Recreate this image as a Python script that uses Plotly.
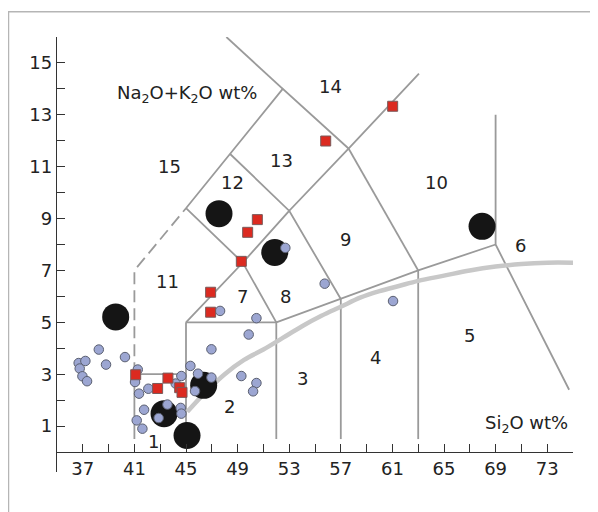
import plotly.graph_objects as go

# ---------------- data ----------------
blue_x = [36.68, 37.2, 36.76, 36.97, 37.33, 38.24, 38.8, 40.27, 41.26, 41.05, 41.36, 42.08,
          41.75, 41.18, 41.62, 43.56, 42.88, 44.59, 44.64, 44.64, 44.2, 45.34, 45.93, 46.97,
          45.7, 46.97, 49.29, 50.46, 50.2, 47.64, 50.46, 49.86, 52.7, 55.75, 61.05]
blue_y = [3.43, 3.51, 3.22, 2.92, 2.73, 3.95, 3.37, 3.66, 3.18, 2.70, 2.25, 2.44,
          1.63, 1.22, 0.90, 1.83, 1.31, 1.70, 1.48, 2.93, 2.64, 3.32, 3.02, 2.87,
          2.35, 3.96, 2.93, 2.66, 2.34, 5.44, 5.16, 4.53, 7.87, 6.49, 5.82]

red_x = [41.1, 42.8, 43.6, 44.51, 44.69, 46.91, 46.91, 49.29, 49.78, 50.53, 55.83, 61.02]
red_y = [2.98, 2.45, 2.85, 2.48, 2.30, 6.16, 5.39, 7.35, 8.47, 8.96, 11.99, 13.33]

black_x = [39.55, 43.3, 46.37, 45.08, 47.56, 51.88, 67.95]
black_y = [5.21, 1.48, 2.57, 0.64, 9.19, 7.69, 8.70]

# alkaline / subalkaline divide (thick grey curve)
curve_x = [45.1, 46.5, 48.0, 49.5, 51.0, 52.5, 54.0, 55.5, 57.0, 58.5, 60.0, 61.5, 63.0,
           65.0, 67.0, 69.0, 71.0, 73.0, 75.0]
curve_y = [1.55, 2.3, 3.0, 3.55, 3.95, 4.4, 4.85, 5.25, 5.6, 5.95, 6.2, 6.4, 6.6,
           6.8, 7.0, 7.15, 7.25, 7.3, 7.3]

# TAS field boundaries (polylines)
boundaries = [
    ([41, 41, 45], [0.5, 3, 3]),
    ([45, 45], [0.5, 5]),
    ([45, 52, 52], [5, 5, 0.5]),
    ([52, 57, 63, 69], [5, 5.9, 7, 8]),
    ([57, 57], [5.9, 0.5]),
    ([63, 63], [7, 0.5]),
    ([69, 69, 74.7], [13, 8, 2.4]),
    ([45, 49.4, 52], [5, 7.3, 5]),
    ([45, 49.4, 53, 57], [9.4, 7.3, 9.3, 5.9]),
    ([48.4, 53, 57.6, 63.06], [11.5, 9.3, 11.7, 14.59]),
    ([57.6, 63], [11.7, 7]),
    ([45, 48.4, 52.5, 57.6], [9.4, 11.5, 14, 11.7]),
    ([52.5, 48.13], [14, 16]),
]
dashed_x = [41, 41, 45]
dashed_y = [3, 7, 9.4]

field_labels = ["1", "2", "3", "4", "5", "6", "7", "8", "9", "10", "11", "12", "13", "14", "15"]
field_x = [42.5, 48.4, 54.0, 59.7, 67.0, 70.9, 49.4, 52.7, 57.4, 64.4, 43.6, 48.6, 52.4, 56.2, 43.7]
field_y = [0.42, 1.77, 2.83, 3.64, 4.5, 7.96, 5.98, 5.98, 8.19, 10.41, 6.56, 10.41, 11.25, 14.1, 10.99]

x_tickvals = list(range(35, 76, 2))
x_ticktext = [str(v) if (v - 37) % 4 == 0 and v >= 37 else "" for v in x_tickvals]
y_tickvals = list(range(0, 17))
y_ticktext = [str(v) if v % 2 == 1 else "" for v in y_tickvals]

# ---------------- figure ----------------
FONT = "DejaVu Sans"
LINE_C = "#9a9a9a"
fig = go.Figure()

for bx, by in boundaries:
    fig.add_trace(go.Scatter(x=bx, y=by, mode="lines", line=dict(color=LINE_C, width=1.8),
                             hoverinfo="skip", showlegend=False))
fig.add_trace(go.Scatter(x=dashed_x, y=dashed_y, mode="lines",
                         line=dict(color=LINE_C, width=1.8, dash="12px,6px"),
                         hoverinfo="skip", showlegend=False))
fig.add_trace(go.Scatter(x=curve_x, y=curve_y, mode="lines", line=dict(color="#c8c8c8", width=4.5, shape="spline"),
                         hoverinfo="skip", showlegend=False))

fig.add_trace(go.Scatter(x=black_x, y=black_y, mode="markers",
                         marker=dict(size=27, color="#151515", line=dict(width=0)),
                         showlegend=False))
fig.add_trace(go.Scatter(x=blue_x, y=blue_y, mode="markers",
                         marker=dict(size=9.5, color="#9ca6d2", line=dict(width=1, color="#5a5f70")),
                         showlegend=False))
fig.add_trace(go.Scatter(x=red_x, y=red_y, mode="markers",
                         marker=dict(size=10, symbol="square", color="#dc2a20", line=dict(width=1, color="#7a5a5a")),
                         showlegend=False))

annotations = []
for t, x, y in zip(field_labels, field_x, field_y):
    annotations.append(dict(x=x, y=y, text=t, showarrow=False, xref="x", yref="y",
                            font=dict(family=FONT, size=18, color="#222")))
annotations.append(dict(x=39.5, y=13.82, text="Na<sub>2</sub>O+K<sub>2</sub>O wt%", showarrow=False,
                        xanchor="left", xref="x", yref="y", font=dict(family=FONT, size=18, color="#222")))
annotations.append(dict(x=74.75, y=1.09, text="Si<sub>2</sub>O wt%", showarrow=False,
                        xanchor="right", xref="x", yref="y", font=dict(family=FONT, size=18, color="#222")))

YMIN = -0.77
fig.update_layout(
    width=598, height=512,
    margin=dict(l=49, r=33, t=29, b=48, autoexpand=False),
    paper_bgcolor="white", plot_bgcolor="white",
    annotations=annotations,
    shapes=[dict(type="rect", xref="paper", yref="paper", x0=-0.094, x1=1.3, y0=-0.3, y1=1.058,
                 line=dict(color="#b5b5b5", width=1.5), layer="below")],
    xaxis=dict(range=[35, 75], showgrid=False, zeroline=False, showline=True, linecolor="#333",
               linewidth=1.3, ticks="inside", ticklen=8, tickwidth=1.3, tickcolor="#333",
               tickvals=x_tickvals, ticktext=x_ticktext, anchor="free",
               position=(0 - YMIN) / (16 - YMIN), automargin=False,
               tickfont=dict(family=FONT, size=18, color="#222")),
    yaxis=dict(range=[YMIN, 16], showgrid=False, zeroline=False, showline=True, linecolor="#333",
               linewidth=1.3, ticks="inside", ticklen=8, tickwidth=1.3, tickcolor="#333",
               tickvals=y_tickvals, ticktext=y_ticktext, automargin=False,
               tickfont=dict(family=FONT, size=18, color="#222")),
)

fig.write_html("out.html")
